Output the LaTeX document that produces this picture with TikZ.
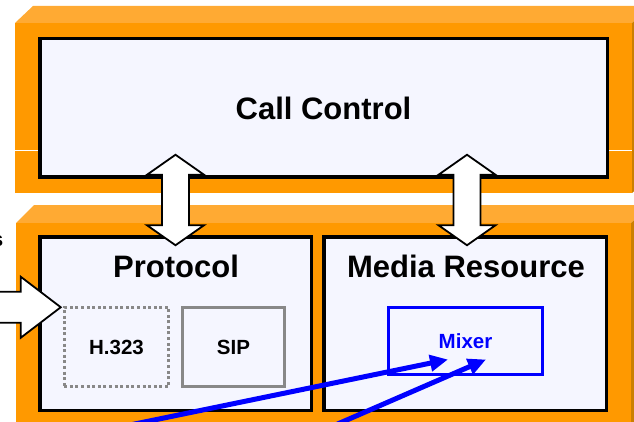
\documentclass[tikz,border=0pt]{standalone}
\usepackage{fontspec}
\setmainfont{Liberation Sans}
\usetikzlibrary{calc,arrows.meta}
\definecolor{orfront}{HTML}{FF9900}
\definecolor{ortop}{HTML}{FFAA33}
\definecolor{orside}{HTML}{CC7F00}
\definecolor{boxfill}{HTML}{F5F6FF}
\definecolor{midgray}{HTML}{888888}
\definecolor{mixblue}{HTML}{0000FF}
\newcommand\vdblarrow[2]{%
  \draw[blockarrow] let \p1=(#1), \p2=(#2) in
    (\x1,\y1) -- (\x1+28.5pt,\y1-20pt) -- (\x1+13.5pt,\y1-20pt) --
    (\x2+13.5pt,\y2+20pt) -- (\x2+28.5pt,\y2+20pt) -- (\x2,\y2) --
    (\x2-28.5pt,\y2+20pt) -- (\x2-13.5pt,\y2+20pt) --
    (\x1-13.5pt,\y1-20pt) -- (\x1-28.5pt,\y1-20pt) -- cycle;}
\begin{document}
\begin{tikzpicture}[x=1pt,y=-1pt,
  bigtext/.style={font=\fontsize{31}{36}\selectfont\bfseries},
  smalltext/.style={font=\fontsize{20.5}{24}\selectfont\bfseries},
  layerbox/.style={draw=black, line width=3.5pt, fill=boxfill, inner sep=0pt},
  subbox/.style={draw=midgray, line width=3pt, inner sep=0pt, smalltext},
  dotbox/.style={draw=midgray, line width=3pt, dash pattern=on 3pt off 2.6pt, inner sep=0pt, smalltext},
  mixbox/.style={draw=mixblue, line width=3pt, inner sep=0pt, smalltext, text=mixblue},
  blockarrow/.style={draw=black, line width=1.8pt, fill=white, line join=miter},
  bluearrow/.style={draw=mixblue, line width=5pt, -{Triangle[length=18pt,width=16pt]}}
]
\useasboundingbox (0,0) rectangle (634,422);
% top orange 3D slab
\fill[ortop] (15,23) -- (33,6) -- (652,6) -- (632,23) -- cycle;
\fill[orside] (632,23) -- (652,6) -- (652,176) -- (632,193) -- cycle;
\fill[orfront] (15,23) rectangle (632,193);
\draw[white, line width=0.8pt] (15,150) -- (632,150);
% bottom orange 3D slab
\fill[ortop] (16,223) -- (34,205) -- (652,205) -- (631,223) -- cycle;
\fill[orside] (631,223) -- (652,205) -- (652,440) -- (631,440) -- cycle;
\fill[orfront] (16,223) rectangle (631,440);
% layer boxes
\node[layerbox, bigtext, minimum width=567.5pt, minimum height=138.5pt] (cc) at (323.5,108) {Call Control};
\node[layerbox, minimum width=271.5pt, minimum height=173.5pt] (proto) at (175.5,323.5) {};
\node[layerbox, minimum width=282.5pt, minimum height=173.5pt] (media) at (465,323.5) {};
\node[bigtext, inner sep=0pt] (ptitle) at (176,266.5) {Protocol};
\node[bigtext, inner sep=0pt] (mtitle) at (466,266.5) {Media Resource};
% sub boxes
\node[dotbox, minimum width=104.5pt, minimum height=79.5pt] (h323) at (116.5,347) {H.323};
\node[subbox, minimum width=102pt, minimum height=79pt] (sip) at (233.5,347) {SIP};
\node[mixbox, minimum width=154pt, minimum height=67pt] (mixer) at (465.5,341) {Mixer};
% clipped text at left edge (cut off in the reference as well)
\node[smalltext, anchor=east, inner sep=0pt] (edgetext) at (3.5,241) {s};
% vertical double arrows
\coordinate (a1top) at ($(cc.south -| proto.north)+(0,-24.25)$);
\coordinate (a1bot) at ($(proto.north)+(0,10.25)$);
\coordinate (a2top) at ($(cc.south -| media.north)+(2,-24.25)$);
\coordinate (a2bot) at ($(media.north)+(2,10.25)$);
\vdblarrow{a1top}{a1bot}
\vdblarrow{a2top}{a2bot}
% left block arrow into protocol
\coordinate (insrc) at (-10,308.5);
\coordinate (intip) at ($(h323.north west)+(-2,1.5)$);
\draw[blockarrow] let \p1=(insrc), \p2=(intip) in
  (\x1,\y2+15.5pt) -- (\x2-40pt,\y2+15.5pt) -- (\x2-40pt,\y2+30.5pt) -- (\x2,\y2) --
  (\x2-40pt,\y2-30.5pt) -- (\x2-40pt,\y2-15.5pt) -- (\x1,\y2-15.5pt);
% blue arrows into mixer
\coordinate (b1src) at (125,426);
\coordinate (b2src) at (333,426);
\coordinate (b1tip) at ($(mixer.south west)+(61,-16.5)$);
\coordinate (b2tip) at ($(mixer.south west)+(99,-16.5)$);
\draw[bluearrow] (b1src) -- (b1tip);
\draw[bluearrow] (b2src) -- (b2tip);
\end{tikzpicture}
\end{document}
